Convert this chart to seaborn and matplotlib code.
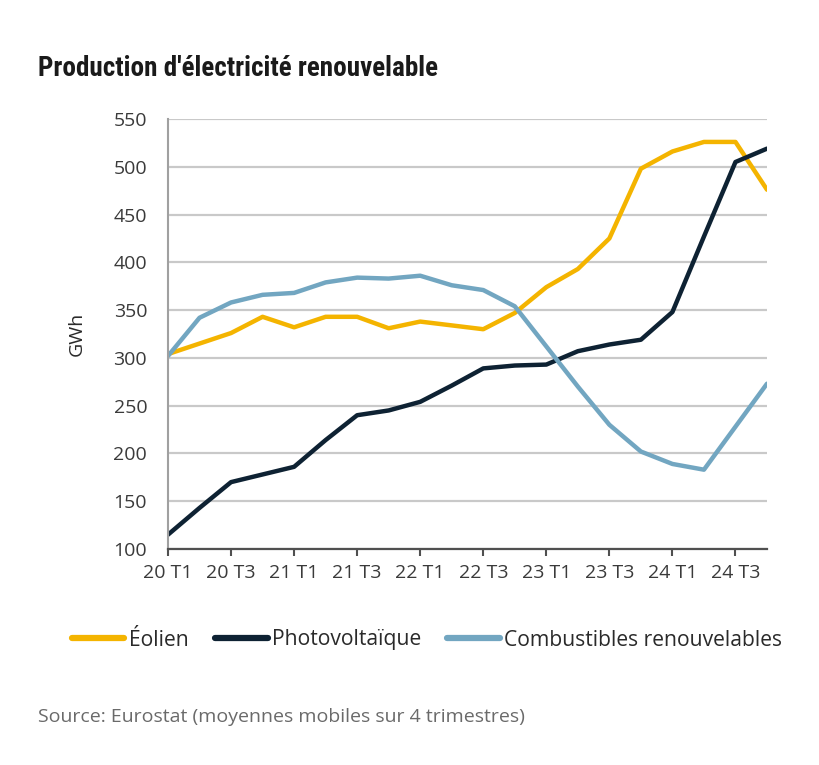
import matplotlib
matplotlib.use("Agg")
import matplotlib.pyplot as plt
import seaborn as sns
import pandas as pd

quarters = ["20 T1", "20 T2", "20 T3", "20 T4", "21 T1", "21 T2", "21 T3", "21 T4",
            "22 T1", "22 T2", "22 T3", "22 T4", "23 T1", "23 T2", "23 T3", "23 T4",
            "24 T1", "24 T2", "24 T3", "24 T4"]
eolien = [304, 315, 326, 343, 332, 343, 343, 331, 338, 334, 330, 347, 374, 393, 425, 498,
          516, 526, 526, 476]
photovoltaique = [115, 143, 170, 178, 186, 214, 240, 245, 254, 271, 289, 292, 293, 307,
                  314, 319, 348, 427, 505, 519]
combustibles = [302, 342, 358, 366, 368, 379, 384, 383, 386, 376, 371, 354, 312, 270,
                230, 202, 189, 183, 228, 273]
series_names = ["Éolien", "Photovoltaïque", "Combustibles renouvelables"]
tick_labels = ["20 T1", "20 T3", "21 T1", "21 T3", "22 T1", "22 T3", "23 T1", "23 T3",
               "24 T1", "24 T3"]
y_ticks = [100, 150, 200, 250, 300, 350, 400, 450, 500, 550]

colors = ["#F4B400", "#0E2233", "#72A6C1"]

rows = []
for name, vals in zip(series_names, [eolien, photovoltaique, combustibles]):
    for i, (q, v) in enumerate(zip(quarters, vals)):
        rows.append({"idx": i, "quarter": q, "value": v, "serie": name})
df = pd.DataFrame(rows)

sns.set_theme(style="white")
plt.rcParams["font.family"] = ["Open Sans", "DejaVu Sans"]

fig = plt.figure(figsize=(8.2, 7.65), dpi=100)
ax = fig.add_axes([168 / 820, 1 - 549 / 765, 599 / 820, 430 / 765])

sns.lineplot(data=df, x="idx", y="value", hue="serie", hue_order=series_names,
             palette=colors, linewidth=3.2, ax=ax, legend=False)

ax.set_xlim(0, len(quarters) - 1)
ax.set_ylim(100, 550)
ax.set_yticks(y_ticks)
ax.set_xticks([quarters.index(t) for t in tick_labels])
ax.set_xticklabels(tick_labels)
ax.yaxis.grid(True, color="#c9c9c9", linewidth=1.6)
ax.xaxis.grid(False)
ax.set_axisbelow(True)

for s in ["top", "right"]:
    ax.spines[s].set_visible(False)
ax.spines["left"].set_color("#a0a0a0")
ax.spines["left"].set_linewidth(1.5)
ax.spines["bottom"].set_color("#505050")
ax.spines["bottom"].set_linewidth(1.6)

ax.tick_params(axis="y", length=0, pad=15, labelsize=14, labelcolor="#3a3a3a")
ax.tick_params(axis="x", length=5, width=1.5, color="#505050", pad=6,
               labelsize=14, labelcolor="#3a3a3a", bottom=True)

ax.set_xlabel("")
ax.set_ylabel("GWh", fontsize=14, color="#2a2a2a", labelpad=20)

fig.text(38 / 820, 1 - 68 / 765, "Production d'électricité renouvelable",
         fontsize=19.5, fontweight="bold", fontstretch="condensed", color="#1a1a1a",
         family=["Roboto Condensed", "Open Sans Condensed", "Liberation Sans Narrow",
                 "Roboto", "DejaVu Sans"], va="center", ha="left")

handles = [plt.Line2D([], [], color=c, linewidth=4.5) for c in colors]
leg = fig.legend(handles, series_names, loc="center",
                 bbox_to_anchor=(427 / 820, 1 - 640 / 765),
                 ncol=3, frameon=False, fontsize=15.2, handlelength=2.5,
                 handletextpad=0.2, columnspacing=1.25, labelcolor="#2a2a2a")

fig.text(38 / 820, 1 - 717 / 765, "Source: Eurostat (moyennes mobiles sur 4 trimestres)",
         fontsize=14, color="#6a6a6a", va="center", ha="left")

fig.savefig("out.png", dpi=100, facecolor="white")
